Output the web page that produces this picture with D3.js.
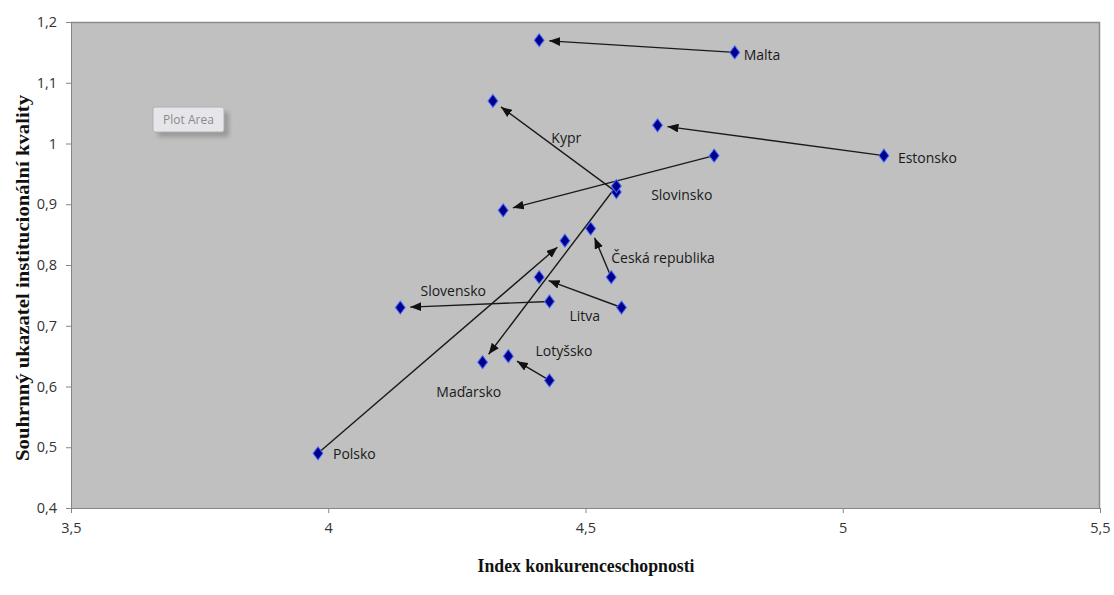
<!DOCTYPE html>
<html>
<head>
<meta charset="utf-8">
<script src="https://cdn.jsdelivr.net/npm/d3@7"></script>
<style>
  html, body { margin: 0; padding: 0; background: #fff; }
  svg { display: block; }
</style>
</head>
<body>
<svg id="chart" width="1114" height="595"></svg>
<script>
// Countries and their movement: from (index, quality) to (index, quality)
const countries = ["Malta", "Estonsko", "Kypr", "Slovinsko", "Maďarsko", "Česká republika", "Litva", "Slovensko", "Lotyšsko", "Polsko"];
const indexFrom   = [4.79, 5.08, 4.56, 4.75, 4.56, 4.55, 4.57, 4.43, 4.43, 3.98];
const qualityFrom = [1.15, 0.98, 0.92, 0.98, 0.93, 0.78, 0.73, 0.74, 0.61, 0.49];
const indexTo     = [4.41, 4.64, 4.32, 4.34, 4.30, 4.51, 4.41, 4.14, 4.35, 4.46];
const qualityTo   = [1.17, 1.03, 1.07, 0.89, 0.64, 0.86, 0.78, 0.73, 0.65, 0.84];

const xTickValues = [3.5, 4, 4.5, 5, 5.5];
const yTickValues = [0.4, 0.5, 0.6, 0.7, 0.8, 0.9, 1.0, 1.1, 1.2];
const xTitle = "Index konkurenceschopnosti";
const yTitle = "Souhrnný ukazatel institucionální kvality";

// Label placement (pixel offsets from the starting point of each country)
const labelOffset = {
  "Malta": [9, 3], "Estonsko": [14, 2], "Kypr": [-65, -54], "Slovinsko": [-63, 39],
  "Maďarsko": [-180, 206], "Česká republika": [0, -19], "Litva": [-52, 9],
  "Slovensko": [-129, -10], "Lotyšsko": [-14, -29], "Polsko": [15, 1]
};

const svg = d3.select("#chart");
const plot = { left: 71, right: 1100, top: 22, bottom: 508 };

const x = d3.scaleLinear().domain([3.5, 5.5]).range([plot.left, plot.right]);
const y = d3.scaleLinear().domain([0.4, 1.2]).range([plot.bottom, plot.top]);

const fmt = v => String(+v.toFixed(1)).replace(".", ",");

// Plot area background with border
svg.append("rect")
  .attr("x", plot.left).attr("y", plot.top)
  .attr("width", plot.right - plot.left).attr("height", plot.bottom - plot.top)
  .attr("fill", "#c0c0c0");
svg.append("path")
  .attr("d", `M${plot.left},${plot.top + 0.5}H${plot.right - 0.5}V${plot.bottom}`)
  .attr("fill", "none").attr("stroke", "#8c8c8c").attr("stroke-width", 1.5);

// Axes
const xAxis = d3.axisBottom(x).tickValues(xTickValues).tickFormat(fmt).tickSizeOuter(0).tickSize(5).tickPadding(10);
const yAxis = d3.axisLeft(y).tickValues(yTickValues).tickFormat(fmt).tickSizeOuter(0).tickSize(5).tickPadding(9);

const gx = svg.append("g").attr("transform", `translate(0,${plot.bottom})`).call(xAxis);
const gy = svg.append("g").attr("transform", `translate(${plot.left},0)`).call(yAxis);
[gx, gy].forEach(g => {
  g.select(".domain").attr("stroke", "#868686");
  g.selectAll(".tick line").attr("stroke", "#868686");
  g.selectAll(".tick text")
    .attr("fill", "#333")
    .attr("font-family", "'Open Sans', sans-serif")
    .attr("font-size", 14.5);
});

// Axis titles
svg.append("text")
  .attr("x", 586).attr("y", 572)
  .attr("text-anchor", "middle")
  .attr("font-family", "'Liberation Serif', 'Times New Roman', serif")
  .attr("font-weight", "bold").attr("font-size", 18).attr("fill", "#111")
  .attr("textLength", 217).attr("lengthAdjust", "spacingAndGlyphs")
  .text(xTitle);
svg.append("text")
  .attr("transform", `translate(29,278) rotate(-90)`)
  .attr("text-anchor", "middle")
  .attr("font-family", "'Liberation Serif', 'Times New Roman', serif")
  .attr("font-weight", "bold").attr("font-size", 19).attr("fill", "#111")
  .attr("textLength", 366).attr("lengthAdjust", "spacingAndGlyphs")
  .text(yTitle);

// Arrow head marker
svg.append("defs").append("marker")
  .attr("id", "head")
  .attr("viewBox", "0 0 10 8")
  .attr("refX", 10).attr("refY", 4)
  .attr("markerWidth", 11).attr("markerHeight", 9)
  .attr("markerUnits", "userSpaceOnUse")
  .attr("orient", "auto")
  .append("path").attr("d", "M0,0L10,4L0,8Z").attr("fill", "#111");

const rows = countries.map((c, i) => ({
  name: c,
  x0: indexFrom[i], y0: qualityFrom[i],
  x1: indexTo[i], y1: qualityTo[i]
}));

// Arrows from start to end, stopping short of the end marker
const gap = 10;
svg.append("g").selectAll("line").data(rows).join("line")
  .each(function (d) {
    const ax = x(d.x0), ay = y(d.y0), bx = x(d.x1), by = y(d.y1);
    const len = Math.hypot(bx - ax, by - ay);
    const ux = (bx - ax) / len, uy = (by - ay) / len;
    d3.select(this)
      .attr("x1", ax).attr("y1", ay)
      .attr("x2", bx - ux * gap).attr("y2", by - uy * gap);
  })
  .attr("stroke", "#1a1a1a").attr("stroke-width", 1.4)
  .attr("marker-end", "url(#head)");

// Diamond markers at both ends
const diamond = d3.symbol().type(d3.symbolDiamond).size(50);
const pts = rows.flatMap(d => [{ px: d.x0, py: d.y0 }, { px: d.x1, py: d.y1 }]);
svg.append("g").selectAll("path").data(pts).join("path")
  .attr("d", diamond)
  .attr("transform", d => `translate(${x(d.px)},${y(d.py)}) scale(1.3,1)`)
  .attr("fill", "#00008c").attr("stroke", "#4a6cff").attr("stroke-width", 0.8);

// Country labels
svg.append("g").selectAll("text").data(rows).join("text")
  .attr("x", d => x(d.x0) + labelOffset[d.name][0])
  .attr("y", d => y(d.y0) + labelOffset[d.name][1])
  .attr("dy", "0.35em")
  .attr("font-family", "'Open Sans', sans-serif")
  .attr("font-size", 14).attr("fill", "#1a1a1a")
  .text(d => d.name);

// "Plot Area" hover box
const tip = svg.append("g").attr("transform", "translate(153,107)");
tip.append("rect").attr("x", 5).attr("y", 5).attr("width", 71).attr("height", 25)
  .attr("rx", 2).attr("fill", "#7a7a7a").attr("opacity", 0.55)
  .style("filter", "blur(2px)");
tip.append("rect").attr("width", 71).attr("height", 25).attr("rx", 2)
  .attr("fill", "#e6e6ea").attr("stroke", "#b0b0b0");
tip.append("text").attr("x", 35.5).attr("y", 13).attr("dy", "0.35em")
  .attr("text-anchor", "middle")
  .attr("font-family", "'Open Sans', sans-serif").attr("font-size", 12)
  .attr("fill", "#8a8a8a").text("Plot Area");
</script>
</body>
</html>
